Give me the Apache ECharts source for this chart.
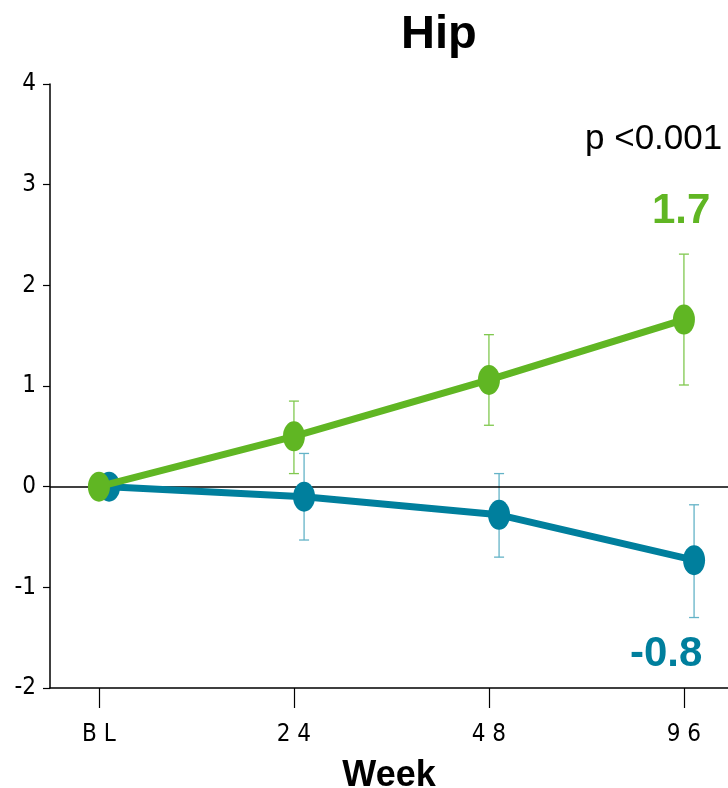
<!DOCTYPE html>
<html>
<head>
<meta charset="utf-8">
<script src="https://cdn.jsdelivr.net/npm/echarts@6/dist/echarts.min.js"></script>
<style>
html,body{margin:0;padding:0;background:#fff;}
#chart{width:728px;height:788px;}
</style>
</head>
<body>
<div id="chart"></div>
<script>
// Data
var weekLabels = ['BL', '24', '48', '96'];
var greenMean = [0, 0.50, 1.06, 1.66];
var greenLow  = [0, 0.13, 0.61, 1.01];
var greenHigh = [0, 0.85, 1.51, 2.31];
var blueMean  = [0, -0.10, -0.28, -0.73];
var blueLow   = [0, -0.53, -0.70, -1.30];
var blueHigh  = [0, 0.33, 0.13, -0.18];

var GREEN = '#60b623';
var BLUE = '#007f9d';
var GREEN_LIGHT = '#80c84f';
var BLUE_LIGHT = '#64b3c7';
var BLUE_OFFSET = 0.052;

function pts(mean, off) {
  return mean.map(function (v, i) { return [i + off, v]; });
}
function errs(low, high, off) {
  return low.map(function (v, i) { return [i + off, v, high[i]]; });
}
function errRender(color) {
  return function (params, api) {
    var x = api.value(0);
    var lo = api.coord([x, api.value(1)]);
    var hi = api.coord([x, api.value(2)]);
    var hw = 5;
    var style = { stroke: color, lineWidth: 1.3, fill: null };
    return {
      type: 'group',
      children: [
        { type: 'line', shape: { x1: lo[0], y1: lo[1], x2: hi[0], y2: hi[1] }, style: style },
        { type: 'line', shape: { x1: lo[0] - hw, y1: lo[1], x2: lo[0] + hw, y2: lo[1] }, style: style },
        { type: 'line', shape: { x1: hi[0] - hw, y1: hi[1], x2: hi[0] + hw, y2: hi[1] }, style: style }
      ]
    };
  };
}

var tickFont = "'Liberation Sans Narrow', 'Arial Narrow', 'DejaVu Sans Condensed', sans-serif";
var mainFont = "'Liberation Sans', Arial, sans-serif";

var chart = echarts.init(document.getElementById('chart'), null, { renderer: 'canvas' });
chart.setOption({
  animation: false,
  backgroundColor: '#fff',
  grid: { left: 50, right: 0, top: 84, bottom: 100, containLabel: false, outerBoundsMode: 'none' },
  xAxis: {
    type: 'value',
    min: -0.251,
    max: 3.226,
    axisLine: { show: true, onZero: false, lineStyle: { color: '#000', width: 1.5 } },
    axisTick: { show: true, length: 20, customValues: [0, 1, 2, 3], lineStyle: { color: '#000', width: 1.2 } },
    axisLabel: {
      customValues: [0, 1, 2, 3],
      margin: 35,
      color: '#000',
      fontSize: 24,
      fontFamily: tickFont,
      formatter: function (v) { return weekLabels[Math.round(v)].split('').join(' '); }
    },
    splitLine: { show: false },
    name: 'Week',
    nameLocation: 'middle',
    nameGap: 70,
    nameTextStyle: { fontSize: 36, fontWeight: 'bold', color: '#000', fontFamily: mainFont }
  },
  yAxis: {
    type: 'value',
    min: -2,
    max: 4,
    interval: 1,
    axisLine: { show: true, onZero: false, lineStyle: { color: '#000', width: 1.5 } },
    axisTick: { show: true, length: 7, lineStyle: { color: '#000', width: 1.2 } },
    axisLabel: { margin: 14, color: '#000', fontSize: 24, fontFamily: tickFont },
    splitLine: { show: false }
  },
  graphic: [
    { type: 'text', left: 401, top: 12, style: { text: 'Hip', fontSize: 47, fontWeight: 'bold', fill: '#000', fontFamily: mainFont } },
    { type: 'text', left: 585, top: 122, style: { text: 'p <0.001', fontSize: 35, fill: '#000', fontFamily: mainFont } },
    { type: 'text', left: 652, top: 190, style: { text: '1.7', fontSize: 42, fontWeight: 'bold', fill: GREEN, fontFamily: mainFont } },
    { type: 'text', left: 630, top: 633, style: { text: '-0.8', fontSize: 42, fontWeight: 'bold', fill: BLUE, fontFamily: mainFont } }
  ],
  series: [
    {
      type: 'custom',
      name: 'blueErr',
      renderItem: errRender(BLUE_LIGHT),
      data: errs(blueLow, blueHigh, BLUE_OFFSET),
      encode: { x: 0, y: [1, 2] },
      z: 1,
      silent: true
    },
    {
      type: 'custom',
      name: 'greenErr',
      renderItem: errRender(GREEN_LIGHT),
      data: errs(greenLow, greenHigh, 0),
      encode: { x: 0, y: [1, 2] },
      z: 1,
      silent: true
    },
    {
      type: 'line',
      name: 'blue',
      data: pts(blueMean, BLUE_OFFSET),
      symbol: 'circle',
      symbolSize: [22, 30],
      itemStyle: { color: BLUE },
      lineStyle: { color: BLUE, width: 7 },
      z: 3,
      markLine: {
        silent: true,
        symbol: 'none',
        label: { show: false },
        lineStyle: { color: '#000', width: 1.5, type: 'solid' },
        data: [{ yAxis: 0 }],
        z: 2
      }
    },
    {
      type: 'line',
      name: 'green',
      data: pts(greenMean, 0),
      symbol: 'circle',
      symbolSize: [22, 30],
      itemStyle: { color: GREEN },
      lineStyle: { color: GREEN, width: 7 },
      z: 4
    }
  ]
});
</script>
</body>
</html>
